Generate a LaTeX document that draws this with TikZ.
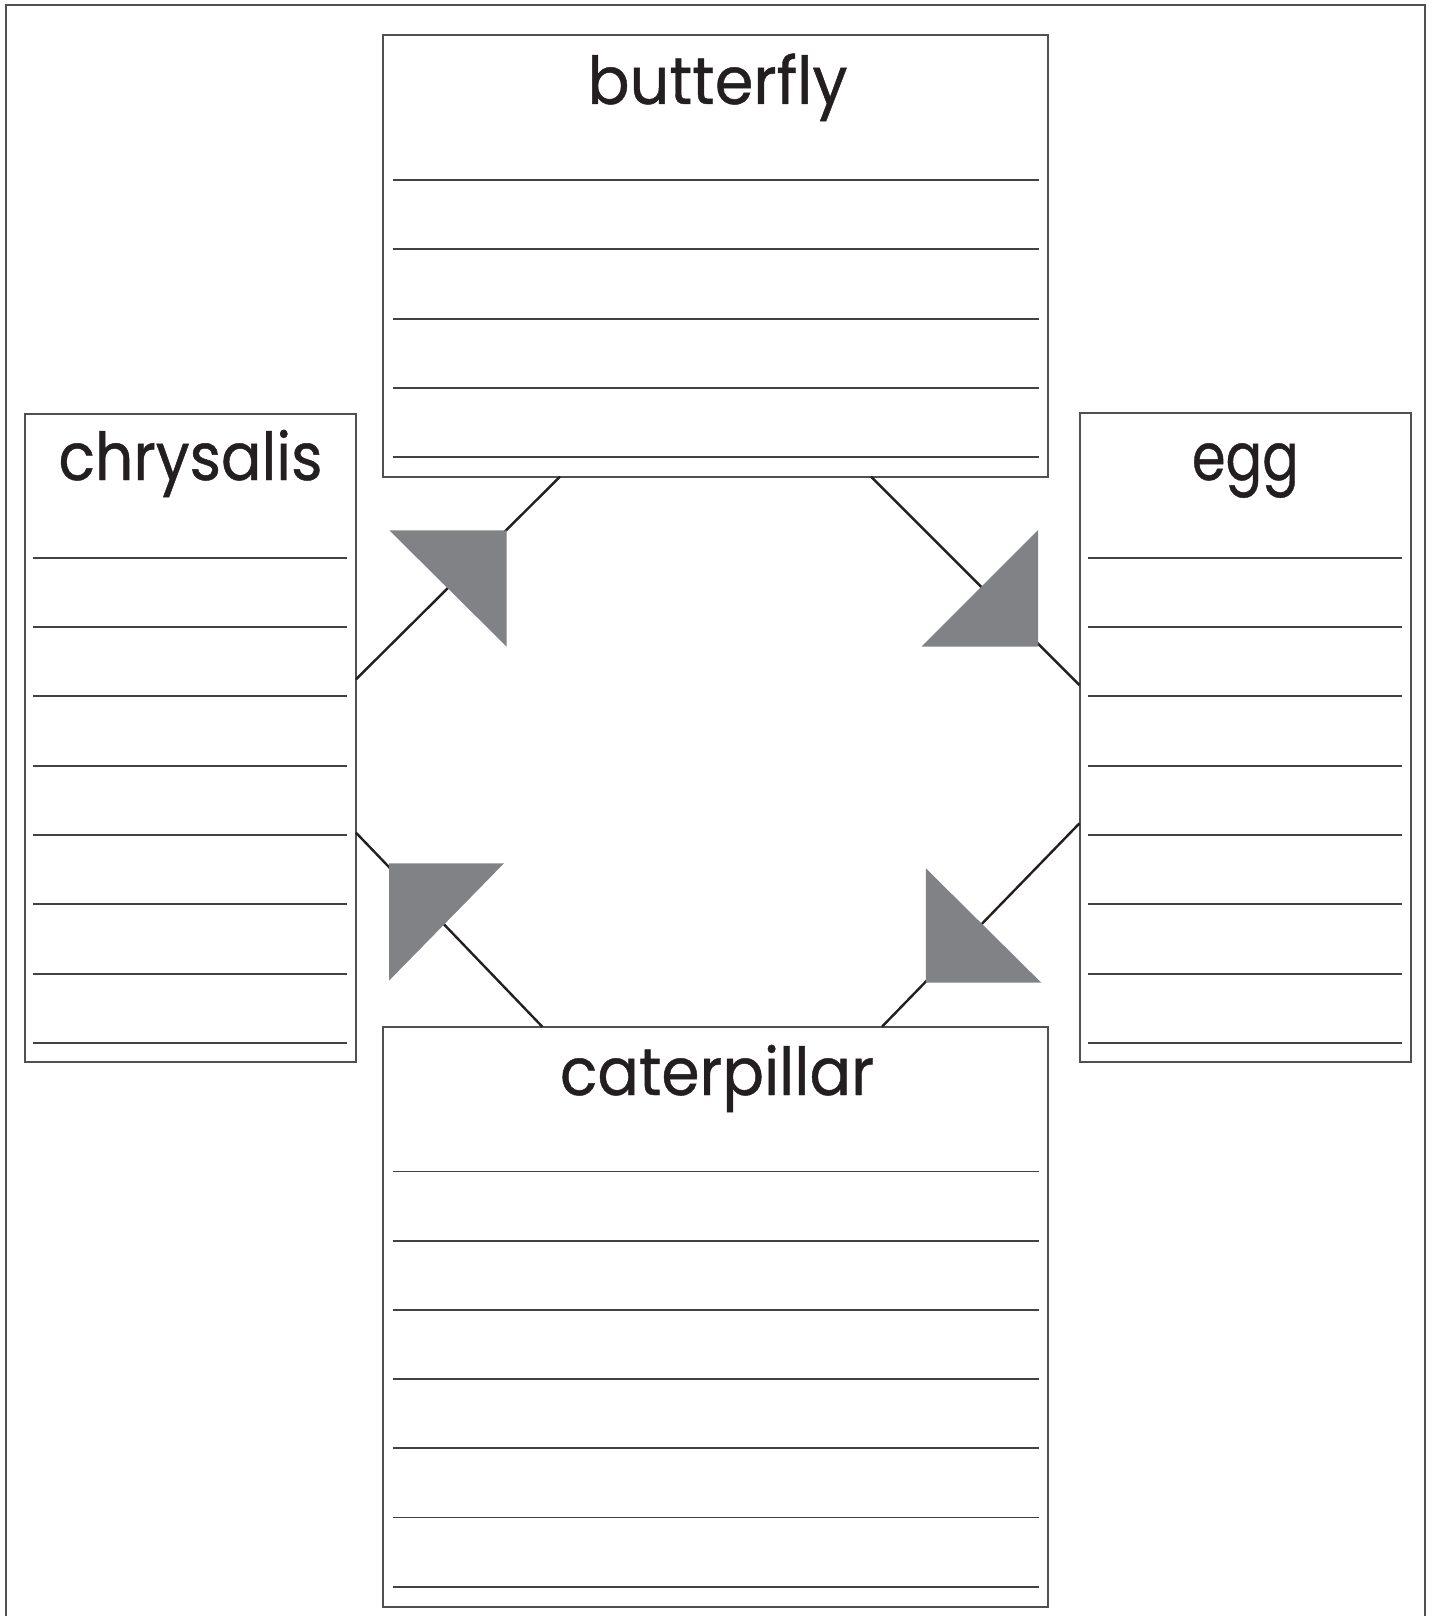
\documentclass[tikz,border=0pt]{standalone}
\usepackage{fontspec}
\setmainfont{Poppins}
\newfontfamily\titlefont[FakeBold=0.7]{Poppins}
\usepackage{graphicx}
\definecolor{ink}{HTML}{231F20}
\definecolor{frame}{HTML}{505050}
\definecolor{arrowgray}{HTML}{808285}
\tikzset{
  box/.style={draw=frame, line width=2pt, inner sep=0pt, outer sep=0pt, anchor=north west},
  rule/.style={draw=ink!85, line width=1.8pt},
  conn/.style={draw=ink, line width=2.4pt},
  head/.style={fill=arrowgray, draw=none},
  title/.style={anchor=base, inner sep=0pt, text=ink, font=\titlefont\fontsize{66}{70}\selectfont}
}
\newcommand\fitw[2]{\resizebox{#1}{\height}{#2}}
\begin{document}
\begin{tikzpicture}[x=1pt,y=-1pt]
\useasboundingbox (0,0) rectangle (1433,1616);
% outer frame
\draw[frame, line width=1.6pt] (5.7,1630) -- (5.7,5) -- (1425,5) -- (1425,1630);

% boxes
\node[box, minimum width=664.7pt, minimum height=441.4pt] (bf) at (383.3,35.3) {};
\node[box, minimum width=331.3pt, minimum height=648.6pt] (chr) at (24.7,413.7) {};
\node[box, minimum width=331.2pt, minimum height=649pt] (egg) at (1079.5,413.3) {};
\node[box, minimum width=664.7pt, minimum height=580.3pt] (cat) at (383.3,1026.7) {};

% titles
\node[title] (bft) at (717.5,104) {\fitw{260pt}{butterfly}};
\node[title] (chrt) at (190.5,480) {\fitw{264pt}{chrysalis}};
\node[title] (eggt) at (1245.4,480) {\fitw{107pt}{egg}};
\node[title] (catt) at (717,1095) {\fitw{314pt}{caterpillar}};

% writing lines
\foreach \y in {180,249.3,318.7,388,457.3}
  \draw[rule] (392.5,\y) -- (1039,\y);
\foreach \y in {1171.5,1240.7,1309.9,1379.1,1448.3,1517.5,1586.7}
  \draw[rule] (392.5,\y) -- (1039,\y);
\foreach \k in {0,...,7}{
  \draw[rule] (33.3,{557.7+69.33*\k}) -- (347.3,{557.7+69.33*\k});
  \draw[rule] (1088,{557.7+69.33*\k}) -- (1402.3,{557.7+69.33*\k});
}

% connectors
\draw[conn] ([yshift=-265.6pt]chr.north east) -- ([xshift=176.7pt]bf.south west);
\draw[conn] ([xshift=-177pt]bf.south east) -- ([yshift=-271.9pt]egg.north west);
\draw[conn] ([yshift=-410pt]egg.north west) -- ([xshift=-166pt]cat.north east);
\draw[conn] ([yshift=-419pt]chr.north east) -- ([xshift=159pt]cat.north west);

% arrowheads
\fill[head] (389.3,530.3) -- (506.7,530.3) -- (506.7,646.7) -- cycle;
\fill[head] (921.5,646.7) -- (1038,646.7) -- (1038,530) -- cycle;
\fill[head] (925.8,868.3) -- (925.8,982.7) -- (1041.3,982.7) -- cycle;
\fill[head] (389,863.3) -- (504,863.3) -- (389,980.7) -- cycle;
\end{tikzpicture}
\end{document}
